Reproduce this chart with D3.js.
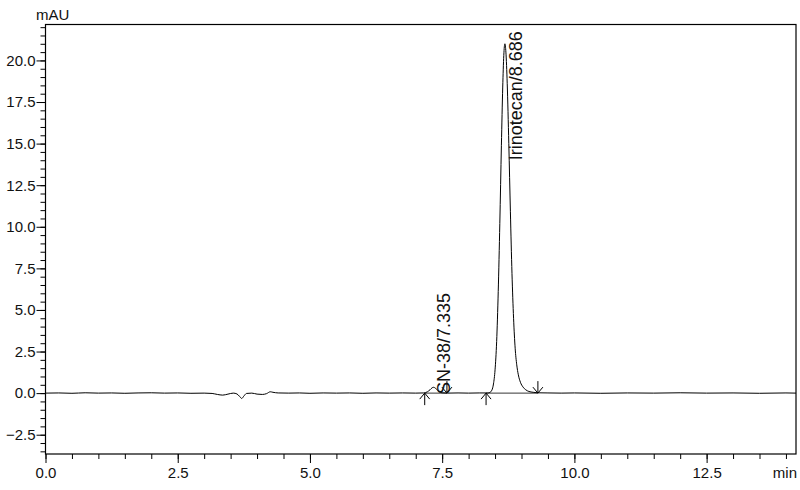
<!DOCTYPE html>
<html>
<head>
<meta charset="utf-8">
<script src="https://cdn.jsdelivr.net/npm/d3@7"></script>
<style>
  html, body { margin: 0; padding: 0; background: #fff; }
  svg { display: block; font-family: "Liberation Sans", Arial, sans-serif; }
</style>
</head>
<body>
<svg id="chart" width="800" height="490"></svg>
<script>
// ---- Data ----
const times = [
  0.00, 0.25, 0.50, 0.75, 1.00, 1.25, 1.50, 1.75, 2.00, 2.25, 2.50, 2.75, 3.00,
  3.15, 3.25, 3.35, 3.45, 3.55, 3.62, 3.67, 3.71, 3.75, 3.80, 3.90, 4.00, 4.10,
  4.18, 4.25, 4.30, 4.40, 4.60, 4.80, 5.00, 5.25, 5.50, 5.75, 6.00, 6.25, 6.50,
  6.75, 7.00, 7.15, 7.22, 7.27, 7.31, 7.34, 7.37, 7.41, 7.45, 7.50, 7.60, 7.80,
  8.00, 8.20, 8.36, 8.40, 8.44, 8.47, 8.50, 8.53, 8.56, 8.59, 8.62, 8.645, 8.665,
  8.686, 8.705, 8.73, 8.76, 8.79, 8.82, 8.85, 8.88, 8.91, 8.94, 8.98, 9.03, 9.08,
  9.14, 9.22, 9.30, 9.50, 9.75, 10.00, 10.50, 11.00, 11.50, 12.00, 12.50, 13.00,
  13.50, 14.00, 14.19
];
const signal = [
  0.00, 0.01, -0.01, 0.02, 0.00, 0.01, -0.01, 0.01, 0.02, 0.00, 0.01, -0.01, 0.00,
  -0.02, -0.08, -0.12, -0.06, 0.00, -0.05, -0.20, -0.32, -0.18, -0.02, 0.00, -0.06, -0.08,
  -0.03, 0.08, 0.05, 0.01, 0.00, 0.01, -0.01, 0.01, 0.00, 0.01, -0.01, 0.01, 0.00,
  0.01, 0.00, 0.01, 0.08, 0.20, 0.32, 0.35, 0.30, 0.18, 0.07, 0.02, 0.00, 0.01,
  0.00, 0.01, 0.01, 0.04, 0.18, 0.55, 1.40, 3.10, 6.10, 10.2, 14.9, 18.4, 20.3,
  21.0, 20.5, 18.6, 15.0, 10.9, 7.2, 4.5, 2.7, 1.7, 1.1, 0.65, 0.36, 0.20,
  0.10, 0.05, 0.02, 0.01, 0.00, 0.01, -0.01, 0.01, 0.00, 0.02, 0.00, 0.01,
  -0.01, 0.01, 0.00
];
const xTicks = [0, 2.5, 5, 7.5, 10, 12.5];
const yTicks = [-2.5, 0, 2.5, 5, 7.5, 10, 12.5, 15, 17.5, 20];
const peakNames = ["SN-38/7.335", "Irinotecan/8.686"];
const peakTimes = [7.335, 8.686];
const startMarks = [7.17, 8.33];   // integration start (up arrows)
const endMarks = [7.59, 9.31];     // integration end (down arrows)

(function () {
// ---- Layout ----
const svg = d3.select("#chart");
const pL = 45.5, pR = 796, pT = 24.5, pB = 454;
const x = d3.scaleLinear().domain([0, 14.19]).range([pL, pR]);
const y = d3.scaleLinear().domain([-3.66, 22.16]).range([pB, pT]);

// Frame
svg.append("rect")
  .attr("x", pL).attr("y", pT)
  .attr("width", pR - pL).attr("height", pB - pT)
  .attr("fill", "none").attr("stroke", "#000").attr("stroke-width", 1.2);

// Minor ticks
const xMinor = d3.range(0, 14.01, 0.5);
const yMinor = d3.range(-3.5, 22.01, 0.5);

const xAxis = d3.axisBottom(x).tickValues(xMinor).tickSize(5).tickFormat("");
svg.append("g").attr("transform", `translate(0,${pB})`).call(xAxis)
  .call(g => g.select(".domain").remove())
  .call(g => g.selectAll("line").attr("stroke", "#000"));
const xAxisMajor = d3.axisBottom(x).tickValues(xTicks).tickSize(9).tickPadding(4)
  .tickFormat(d3.format(".1f"));
svg.append("g").attr("transform", `translate(0,${pB})`).call(xAxisMajor)
  .call(g => g.select(".domain").remove())
  .call(g => g.selectAll("line").attr("stroke", "#000"))
  .call(g => g.selectAll("text").attr("font-size", 15).attr("fill", "#111")
        .attr("font-family", "Liberation Sans, Arial, sans-serif"));

const yAxis = d3.axisLeft(y).tickValues(yMinor).tickSize(5).tickFormat("");
svg.append("g").attr("transform", `translate(${pL},0)`).call(yAxis)
  .call(g => g.select(".domain").remove())
  .call(g => g.selectAll("line").attr("stroke", "#000"));
const yAxisMajor = d3.axisLeft(y).tickValues(yTicks).tickSize(9).tickPadding(1)
  .tickFormat(d3.format(".1f"));
svg.append("g").attr("transform", `translate(${pL},0)`).call(yAxisMajor)
  .call(g => g.select(".domain").remove())
  .call(g => g.selectAll("line").attr("stroke", "#000"))
  .call(g => g.selectAll("text").attr("font-size", 15).attr("fill", "#111")
        .attr("font-family", "Liberation Sans, Arial, sans-serif"));

// Axis unit labels
svg.append("text").attr("x", 36).attr("y", 20).attr("font-size", 15)
  .attr("fill", "#111").text("mAU");
svg.append("text").attr("x", 797).attr("y", 478).attr("font-size", 15)
  .attr("text-anchor", "end").attr("fill", "#111").text("min");

// Trace
const pts = times.map((t, i) => [t, signal[i]]);
const line = d3.line().curve(d3.curveMonotoneX).x(d => x(d[0])).y(d => y(d[1]));
svg.append("path").datum(pts).attr("d", line)
  .attr("fill", "none").attr("stroke", "#000").attr("stroke-width", 1)
  .attr("stroke-linejoin", "round");

// Integration baselines
startMarks.forEach((s, i) => {
  svg.append("line").attr("x1", x(s)).attr("x2", x(endMarks[i]))
    .attr("y1", y(0)).attr("y2", y(0)).attr("stroke", "#000").attr("stroke-width", 0.8);
});

// Arrows
const arrow = (t, up) => {
  const ax = x(t), ay = y(0);
  const g = svg.append("g").attr("stroke", "#000").attr("stroke-width", 1).attr("fill", "none");
  if (up) {
    g.append("line").attr("x1", ax).attr("x2", ax).attr("y1", ay).attr("y2", ay + 12);
    g.append("path").attr("d", `M${ax - 5},${ay + 6}L${ax},${ay}L${ax + 5},${ay + 6}`);
  } else {
    g.append("line").attr("x1", ax).attr("x2", ax).attr("y1", ay - 12).attr("y2", ay);
    g.append("path").attr("d", `M${ax - 5},${ay - 6}L${ax},${ay}L${ax + 5},${ay - 6}`);
  }
};
startMarks.forEach(t => arrow(t, true));
endMarks.forEach(t => arrow(t, false));

// Peak labels (rotated)
const labelPos = [
  { dx: 17, yv: -0.05 },
  { dx: 17, yv: 14.0 }
];
peakNames.forEach((name, i) => {
  const lx = x(peakTimes[i]) + labelPos[i].dx;
  const ly = y(labelPos[i].yv);
  svg.append("text")
    .attr("transform", `translate(${lx},${ly}) rotate(-90)`)
    .attr("font-size", 18).attr("fill", "#111")
    .text(name);
});
})();
</script>
</body>
</html>
